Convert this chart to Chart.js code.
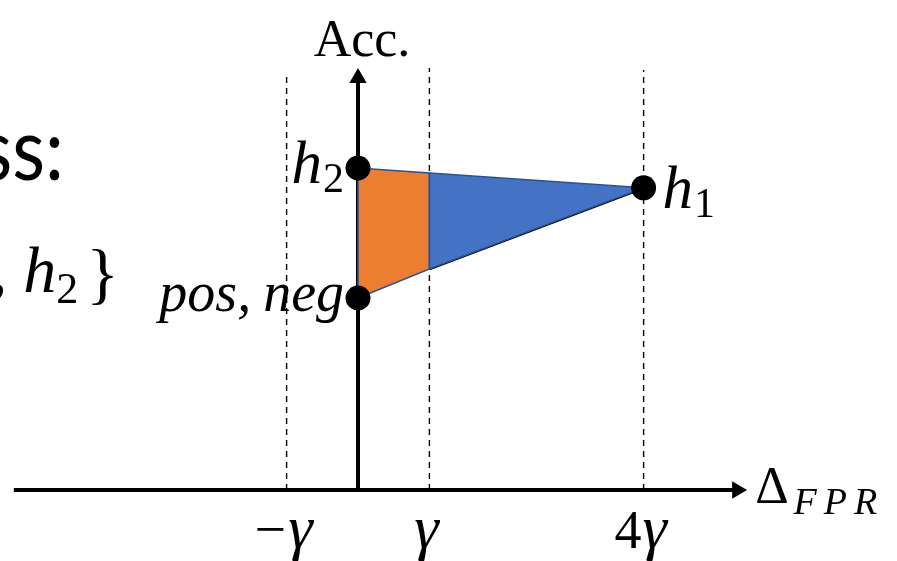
<!DOCTYPE html>
<html>
<head>
<meta charset="utf-8">
<script src="https://cdn.jsdelivr.net/npm/chart.js@4/dist/chart.umd.min.js"></script>
<style>
  html, body { margin: 0; padding: 0; background: #fff; }
  canvas { display: block; }
</style>
</head>
<body>
<canvas id="c" width="897" height="561"></canvas>
<script>
// x en unidades de γ (Δ_FPR), y = Acc. en unidades arbitrarias
const pointNames = ['h2', 'h1', 'pos,neg'];
const pointX = [0, 4, 0];
const pointY = [76.3, 71.6, 45.5];

// líneas discontinuas verticales y sus etiquetas
const gammaTicks = [-1, 1, 4];
const gammaTickLabels = ['−γ', 'γ', '4γ'];
const dashTop = [98.6, 100, 99.5];

// región naranja (0..γ) y región azul (γ..4γ)
const orangeX = [0, 0, 1, 1, 0];
const orangeY = [45.5, 76.3, 75.1, 52.4, 45.5];
const blueX = [1, 4, 1, 1];
const blueY = [75.1, 71.6, 52.4, 75.1];

// extremos de los ejes (la punta de flecha va en el último punto)
const xAxisFrom = -4.82, xAxisTo = 5.31;
const yAxisTop = 97.6;

const ORANGE = '#ED7D31';
const BLUE = '#4472C4';
const EDGE = '#2F528F';
const SERIF = '"Liberation Serif", serif';

const pts = (xs, ys) => xs.map((x, i) => ({ x, y: ys[i] }));

const dashSets = gammaTicks.map((g, i) => ({
  data: [{ x: g, y: 0 }, { x: g, y: dashTop[i] }],
  showLine: true, borderColor: '#000', borderWidth: 1.4, borderDash: [6, 5],
  pointRadius: 0, order: 9,
}));

// dibuja trozos de texto seguidos (cursiva, subíndices...)
function drawRuns(ctx, runs, x, y, align) {
  let w = 0;
  runs.forEach((r) => { ctx.font = r.font; r.w = ctx.measureText(r.text).width; w += r.w + (r.gap || 0); });
  let cx = align === 'right' ? x - w : align === 'center' ? x - w / 2 : x;
  runs.forEach((r) => { ctx.font = r.font; ctx.fillText(r.text, cx, y + (r.dy || 0)); cx += r.w + (r.gap || 0); });
}

const it = (s) => `italic ${s}px ${SERIF}`;
const rm = (s) => `${s}px ${SERIF}`;

const labelsPlugin = {
  id: 'labels',
  afterDatasetsDraw(chart) {
    const { ctx, scales: { x, y } } = chart;
    ctx.save();
    ctx.fillStyle = '#000';
    ctx.textBaseline = 'alphabetic';

    // texto de la diapositiva, cortado por la izquierda
    ctx.save();
    ctx.scale(0.86, 1);
    ctx.font = '88px Lato, sans-serif';
    ctx.textAlign = 'right';
    ctx.fillText('ss:', 64 / 0.86, 180);
    ctx.restore();
    ctx.textAlign = 'left';
    drawRuns(ctx, [
      { text: ',', font: it(66), gap: 16 },
      { text: 'h', font: it(66) },
      { text: '2', font: rm(44), dy: 11, gap: 8 },
      { text: '}', font: rm(68), dy: 4 },
    ], 119, 292, 'right');

    const x0 = x.getPixelForValue(0);
    const yTop = y.getPixelForValue(yAxisTop);
    drawRuns(ctx, [{ text: 'Acc.', font: rm(52) }], x0 + 4, yTop - 22, 'center');

    const px = pointX.map((v) => x.getPixelForValue(v));
    const py = pointY.map((v) => y.getPixelForValue(v));
    drawRuns(ctx, [{ text: 'h', font: it(61), gap: 1 }, { text: '2', font: rm(42), dy: 9 }], px[0] - 14, py[0] + 15, 'right');
    drawRuns(ctx, [{ text: 'h', font: it(61), gap: 1 }, { text: '1', font: rm(42), dy: 9 }], px[1] + 19, py[1] + 20, 'left');
    drawRuns(ctx, [{ text: 'pos,', font: it(56), gap: 12 }, { text: 'neg', font: it(56) }], px[2] - 14, py[2] + 13, 'right');

    const yx = y.getPixelForValue(0);
    drawRuns(ctx, [
      { text: 'Δ', font: rm(52), gap: 5 },
      { text: 'F', font: it(38), dy: 11, gap: 7 },
      { text: 'P', font: it(38), dy: 11, gap: 7 },
      { text: 'R', font: it(38), dy: 11 },
    ], x.getPixelForValue(xAxisTo) + 18, yx + 13, 'left');

    gammaTicks.forEach((g, i) => {
      const lbl = gammaTickLabels[i];
      const runs = lbl === '−γ' ? [{ text: '−', font: rm(56), gap: 2 }, { text: 'γ', font: it(62) }]
        : lbl === '4γ' ? [{ text: '4', font: rm(54), gap: 1 }, { text: 'γ', font: it(62) }]
        : [{ text: 'γ', font: it(62) }];
      drawRuns(ctx, runs, x.getPixelForValue(g) - 3, yx + 58, 'center');
    });
    ctx.restore();
  },
};

new Chart(document.getElementById('c'), {
  type: 'scatter',
  data: {
    datasets: [
      {
        data: pts(pointX, pointY),
        pointRadius: 12.5, pointBackgroundColor: '#000', pointBorderWidth: 0, order: 0,
      },
      {
        data: pts(blueX, blueY), showLine: true, fill: 'shape',
        backgroundColor: BLUE, borderColor: EDGE, borderWidth: 1.5, pointRadius: 0, order: 2,
      },
      {
        data: pts(orangeX, orangeY), showLine: true, fill: 'shape',
        backgroundColor: ORANGE, borderColor: EDGE, borderWidth: 1.5, pointRadius: 0, order: 3,
      },
      {
        data: [{ x: orangeX[3], y: orangeY[3] }, { x: pointX[1], y: pointY[1] }], showLine: true,
        borderColor: '#000', borderWidth: 3, pointRadius: 0, order: 4,
      },
      {
        data: [{ x: xAxisFrom, y: 0 }, { x: xAxisTo, y: 0 }], showLine: true,
        borderColor: '#000', borderWidth: 4, borderCapStyle: 'butt',
        pointRadius: [0, 10], pointStyle: 'triangle', pointRotation: 90,
        pointBackgroundColor: '#000', pointBorderWidth: 0, order: 1,
      },
      {
        data: [{ x: 0, y: 0 }, { x: 0, y: yAxisTop }], showLine: true,
        borderColor: '#000', borderWidth: 4, borderCapStyle: 'butt',
        pointRadius: [0, 10], pointStyle: 'triangle', pointRotation: 0,
        pointBackgroundColor: '#000', pointBorderWidth: 0, order: 5,
      },
      ...dashSets,
    ],
  },
  options: {
    responsive: false,
    animation: false,
    events: [],
    layout: { autoPadding: false, padding: 0 },
    plugins: { legend: { display: false }, tooltip: { enabled: false } },
    scales: {
      x: { type: 'linear', display: false, min: -5.014, max: 7.549 },
      y: { type: 'linear', display: false, min: -16.82, max: 116.11 },
    },
  },
  plugins: [labelsPlugin],
});
</script>
</body>
</html>
